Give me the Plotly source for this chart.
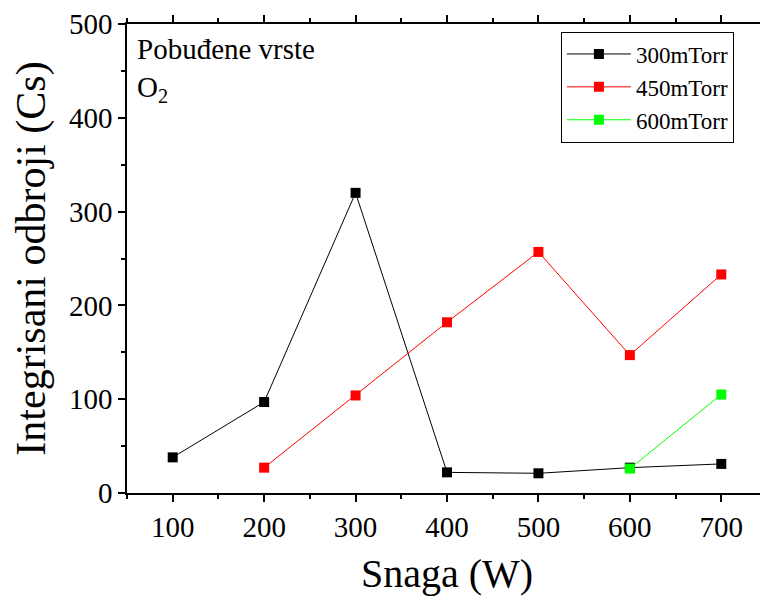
import plotly.graph_objects as go

x_vals = [100, 200, 300, 400, 500, 600, 700]
y_300 = [38, 97, 320, 22, 21, 27, 31]
x_450 = [200, 300, 400, 500, 600, 700]
y_450 = [27, 104, 182, 257, 147, 233]
x_600 = [600, 700]
y_600 = [26, 105]

FONT = "Liberation Serif"

fig = go.Figure()
series = [
    ("300mTorr", x_vals, y_300, "black"),
    ("450mTorr", x_450, y_450, "red"),
    ("600mTorr", x_600, y_600, "#00ff00"),
]
for name, xs, ys, col in series:
    fig.add_trace(go.Scatter(
        x=xs, y=ys, name=name, mode="lines+markers",
        line=dict(color=col, width=1),
        marker=dict(symbol="square", size=10, color=col, line=dict(width=0)),
    ))

axis_common = dict(
    showline=True, linecolor="black", linewidth=1.5, mirror="ticks",
    ticks="outside", ticklen=7, tickwidth=1.5, tickcolor="black",
    showgrid=False, zeroline=False, automargin=False,
    tickfont=dict(family=FONT, size=29, color="black"),
    minor=dict(ticks="outside", ticklen=4, tickwidth=1.5, tickcolor="black", showgrid=False),
)

fig.update_xaxes(
    range=[50, 750], dtick=100, tick0=0, minor_dtick=50,
    title=dict(text="Snaga (W)", font=dict(family=FONT, size=40, color="black"), standoff=28),
    **axis_common,
)
fig.update_yaxes(
    range=[0, 500], dtick=100, minor_dtick=50,
    title=dict(text="Integrisani odbroji (Cs)", font=dict(family=FONT, size=42, color="black"), standoff=25),
    **axis_common,
)

fig.add_annotation(x=0.012, y=0.985, xref="paper", yref="paper", xanchor="left", yanchor="top",
                   text="Pobuđene vrste", showarrow=False,
                   font=dict(family=FONT, size=29, color="black"))
fig.add_annotation(x=0.012, y=0.905, xref="paper", yref="paper", xanchor="left", yanchor="top",
                   text="O<sub>2</sub>", showarrow=False,
                   font=dict(family=FONT, size=29, color="black"))

fig.update_layout(
    width=760, height=588,
    margin=dict(l=119, r=1, t=16, b=103),
    paper_bgcolor="white", plot_bgcolor="white",
    showlegend=True,
    legend=dict(x=0.678, y=0.984, xanchor="left", yanchor="top",
                bgcolor="white", bordercolor="black", borderwidth=1,
                font=dict(family=FONT, size=23, color="black"),
                itemwidth=64, tracegroupgap=0),
)

fig.write_html("out.html")
